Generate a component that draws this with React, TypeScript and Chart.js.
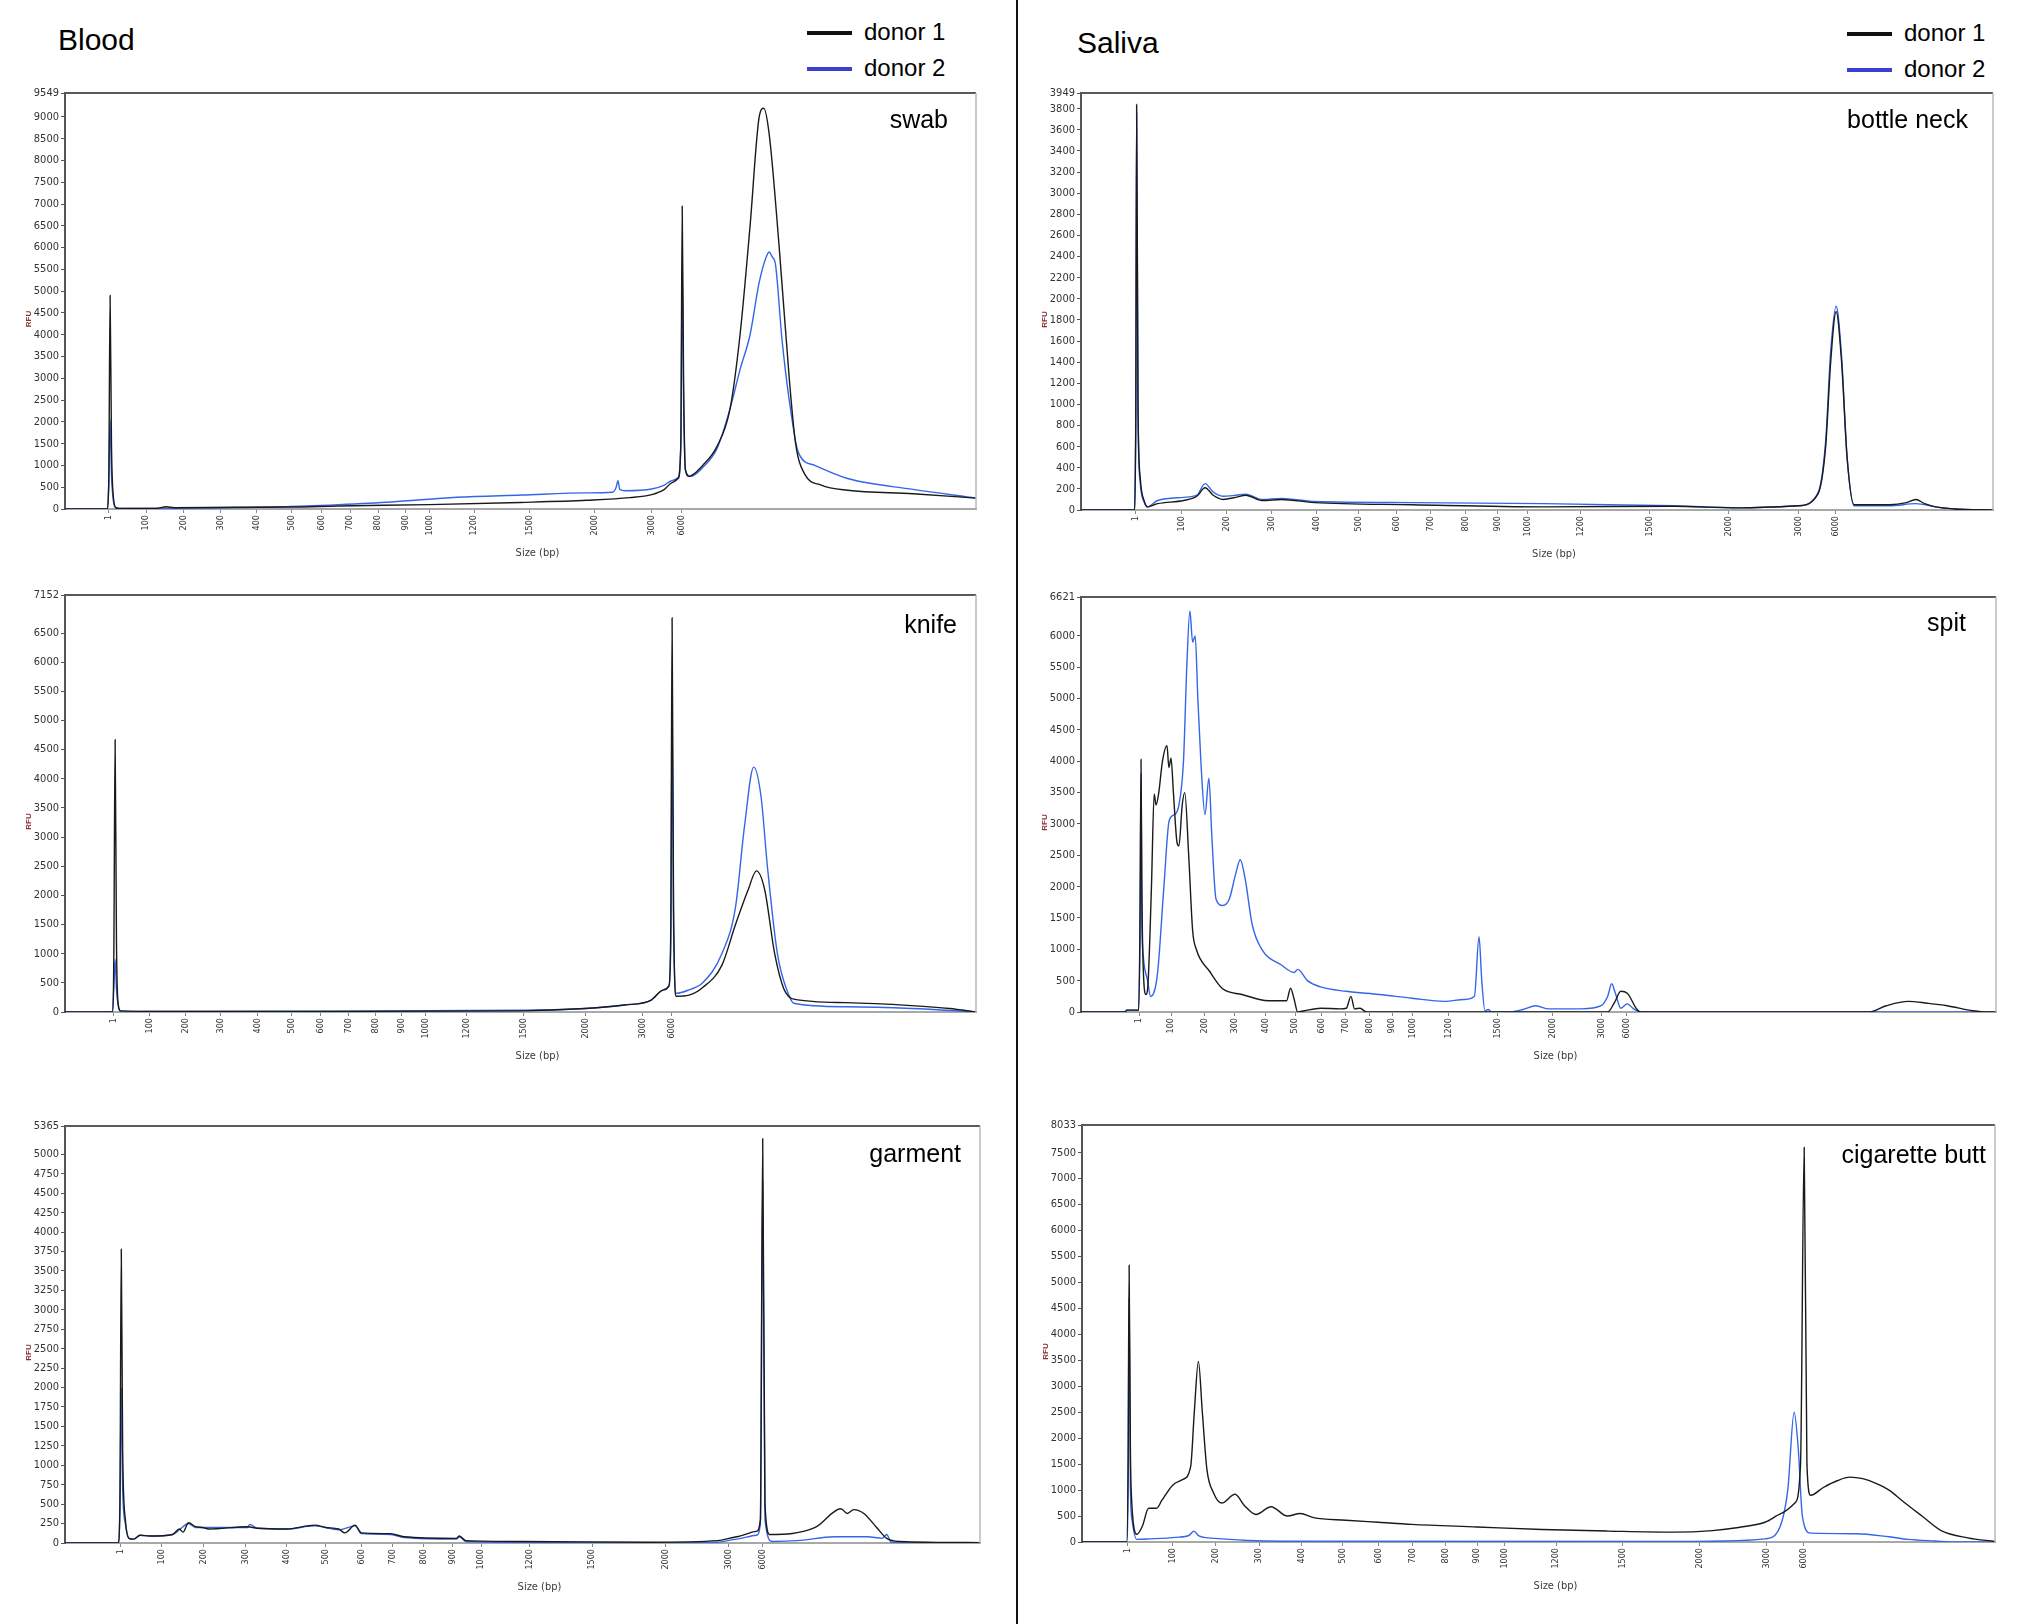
import React, { useEffect, useRef } from "react";
import { Chart, registerables } from "chart.js";

Chart.register(...registerables);

type Pt = [number, number];

// size ladder labels and where each sits along the run (0..1000 across the plot)
const ladderLabels = ["1", "100", "200", "300", "400", "500", "600", "700", "800", "900", "1000", "1200", "1500", "2000", "3000", "6000"];
const swabLadder = [48, 89, 130.3, 171, 210.5, 248.4, 282, 313, 343.6, 373.7, 400, 449, 510, 581, 644, 677];
const knifeLadder = [53.6, 92.9, 132, 171, 211, 248.6, 281, 311, 341, 369, 396, 441, 503, 571, 634, 666];
const garmentLadder = [60.6, 105.5, 151.8, 197.4, 242, 285, 324, 358, 392, 424, 454.7, 507.5, 576, 656, 725.6, 762.7];
const bottleLadder = [59.5, 110.4, 160, 209, 258, 304, 346, 383.5, 421.5, 456.6, 489.6, 547.7, 623, 709.7, 786.4, 827];
const spitLadder = [63.5, 98.4, 134.8, 168.3, 201.9, 234, 262.5, 289, 315, 340, 362, 402, 455, 515, 568.5, 596];
const cigLadder = [50, 98.9, 146, 194, 240.7, 285, 325, 361.7, 398, 432.7, 462.8, 519.3, 592.4, 676, 750, 790];

// RFU traces: [run position, RFU]
const swabDonor1: Pt[] = [[0, 0], [46, 0], [48, 600], [49.5, 4900], [51, 1500], [53, 300], [56, 30], [60, 10], [100, 15], [111, 50], [120, 30], [186, 40], [250, 45], [300, 70], [400, 100], [500, 150], [573, 200], [620, 260], [644, 330], [658, 450], [666, 600], [673, 700], [676, 1500], [677.5, 6950], [679, 3000], [681, 900], [685, 750], [700, 1000], [716, 1450], [730, 2300], [741, 4000], [752, 6500], [762, 9000], [767, 9200], [773, 8600], [784, 6000], [795, 3000], [802, 1500], [812, 800], [830, 550], [859, 430], [931, 350], [1000, 250]];
const swabDonor2: Pt[] = [[0, 0], [46, 0], [48, 500], [49.5, 2050], [51, 800], [53, 200], [56, 20], [60, 10], [150, 20], [236, 50], [300, 100], [358, 160], [430, 270], [501, 320], [573, 370], [601, 385], [605, 500], [607, 650], [609, 450], [615, 420], [644, 460], [658, 550], [666, 650], [673, 720], [676, 1500], [677.5, 5500], [679, 2500], [681, 900], [687, 750], [700, 950], [716, 1400], [730, 2300], [741, 3200], [752, 4000], [762, 5200], [770, 5800], [773, 5900], [776, 5800], [780, 5600], [787, 3900], [795, 2500], [805, 1300], [823, 1000], [859, 700], [931, 450], [1000, 250]];

const knifeDonor1: Pt[] = [[0, 0], [52, 0], [53.6, 1000], [55, 4670], [56.5, 1200], [58, 200], [61, 20], [100, 10], [300, 10], [500, 20], [571, 60], [614, 120], [643, 200], [657, 380], [663, 450], [665, 1500], [666.4, 6760], [668, 1800], [671, 270], [685, 290], [700, 420], [721, 800], [736, 1500], [750, 2100], [759, 2420], [768, 2100], [779, 1000], [789, 400], [800, 220], [857, 160], [929, 110], [971, 60], [1000, 0]];
const knifeDonor2: Pt[] = [[0, 0], [52, 0], [53.6, 400], [55, 900], [56.5, 400], [58, 150], [61, 10], [300, 15], [500, 30], [571, 60], [614, 120], [643, 200], [657, 380], [663, 450], [665, 1200], [666.4, 5100], [668, 1500], [671, 320], [685, 380], [700, 500], [721, 1000], [736, 1800], [746, 3200], [756, 4200], [764, 3700], [771, 2500], [782, 1000], [793, 350], [800, 150], [857, 90], [929, 60], [1000, 0]];

const garmentDonor1: Pt[] = [[0, 0], [58, 0], [60, 500], [61.5, 3780], [63, 1200], [66, 300], [70, 60], [75, 50], [82, 100], [92.7, 90], [117.6, 110], [125, 180], [129, 140], [135, 260], [142.6, 210], [150, 200], [157, 180], [199.6, 210], [210, 190], [242, 180], [273, 230], [285, 200], [299, 180], [306, 130], [317, 230], [324, 130], [356, 120], [370.6, 80], [427.7, 60], [431, 90], [438, 30], [499, 20], [641.5, 10], [713, 30], [734, 80], [755.5, 150], [760, 300], [762.5, 5200], [765, 500], [770, 110], [820, 200], [848, 440], [855, 380], [862, 430], [873, 380], [887, 200], [898, 60], [912, 20], [1000, 5]];
const garmentDonor2: Pt[] = [[0, 0], [58, 0], [60, 400], [61.5, 2000], [63, 700], [66, 250], [70, 60], [75, 50], [82, 100], [92.7, 90], [117.6, 110], [125, 170], [135, 250], [142.6, 200], [199.6, 200], [202, 240], [210, 190], [242, 180], [273, 220], [299, 170], [317, 220], [324, 120], [356, 110], [370.6, 70], [427.7, 50], [431, 80], [438, 20], [499, 10], [641.5, 5], [713, 10], [734, 50], [755.5, 100], [760, 250], [762.5, 4650], [765, 300], [773, 20], [800, 30], [841, 80], [877, 80], [893, 60], [898, 110], [903, 10], [1000, 0]];

const bottleDonor1: Pt[] = [[0, 0], [58, 0], [60, 800], [61, 3840], [62.5, 1000], [65, 300], [69.5, 80], [73, 30], [84, 60], [112.5, 90], [127, 130], [136, 210], [145, 140], [155.6, 100], [170, 120], [180.6, 140], [198.6, 90], [220, 100], [256, 70], [363.4, 50], [507, 30], [650, 35], [722, 20], [786, 40], [808, 150], [816.5, 600], [822, 1400], [828, 1880], [834, 1400], [840, 500], [847.7, 50], [887, 50], [905, 70], [915.4, 100], [925, 60], [937, 30], [958, 10], [1000, 0]];
const bottleDonor2: Pt[] = [[0, 0], [58, 0], [60, 700], [61, 3760], [62.5, 900], [65, 250], [69.5, 70], [73, 30], [84, 90], [112.5, 120], [127, 140], [136, 250], [145, 170], [155.6, 130], [170, 140], [180.6, 150], [198.6, 100], [220, 110], [256, 80], [363.4, 70], [507, 60], [650, 40], [722, 20], [786, 40], [808, 160], [816.5, 650], [822, 1500], [828, 1930], [834, 1450], [840, 500], [847.7, 40], [887, 40], [915.4, 60], [937, 30], [958, 10], [1000, 0]];

const spitDonor1: Pt[] = [[0, 0], [48, 0], [50, 30], [63, 30], [64.5, 1500], [65.6, 4030], [66.5, 2000], [67.8, 800], [71, 280], [73, 400], [77, 2000], [80, 3480], [82, 3300], [85, 3500], [89, 4000], [94, 4250], [96, 3900], [98.4, 4050], [101, 3500], [105, 2700], [107, 2650], [110.6, 3300], [113.4, 3500], [117.7, 2500], [122, 1300], [126, 1000], [140.5, 650], [154.8, 370], [176, 280], [204.7, 180], [224.7, 180], [229, 380], [233, 200], [236.8, 0], [244, 20], [261.8, 60], [283, 50], [290, 60], [295, 250], [299, 50], [305, 60], [312, 0], [575.6, 0], [583, 150], [590, 330], [597, 300], [607.7, 40], [612, 0], [861, 0], [880, 100], [904, 170], [925, 140], [946.5, 100], [975, 20], [990, 0], [1000, 0]];
const spitDonor2: Pt[] = [[0, 0], [48, 0], [50, 30], [63, 30], [64.5, 1200], [65.6, 3800], [66.5, 1500], [68, 900], [72.8, 500], [76, 250], [83.5, 600], [90.6, 2000], [96.3, 3050], [102, 3150], [107, 3300], [112, 4000], [115.6, 5500], [119, 6400], [122, 5900], [124.8, 6000], [127.7, 5000], [131, 4000], [135.5, 3150], [139.8, 3730], [143, 2800], [147.6, 1800], [154.8, 1700], [162, 1800], [169, 2200], [174, 2430], [179.7, 2100], [187, 1400], [197.6, 1000], [219, 750], [233, 630], [236.8, 680], [247.5, 500], [261.8, 400], [290, 330], [326, 280], [361.6, 220], [397, 170], [418.7, 200], [430, 250], [435, 1200], [438, 500], [441.5, 20], [445, 40], [448.6, 0], [468.6, 0], [483, 40], [497, 100], [511, 50], [547, 50], [568.5, 100], [575.6, 250], [580, 450], [584, 300], [590, 60], [597, 130], [604, 50], [611, 0], [1000, 0]];

const cigDonor1: Pt[] = [[0, 0], [49, 0], [50.5, 1500], [51.6, 5330], [53, 1800], [54.4, 800], [60, 150], [66, 300], [73, 650], [81.7, 650], [87.4, 800], [99.6, 1100], [110, 1200], [119, 1450], [123, 2500], [127.5, 3480], [131.8, 2500], [136.8, 1400], [144, 950], [153, 750], [167.6, 920], [178, 700], [190.5, 530], [207, 680], [225, 500], [239, 550], [253.6, 470], [289, 420], [325, 380], [361, 340], [432.7, 290], [504, 240], [576, 210], [647.6, 190], [690.5, 220], [719, 280], [748, 380], [766, 550], [780.8, 750], [787, 1500], [791, 7600], [794, 1500], [798, 900], [812, 1050], [827, 1180], [841, 1250], [855, 1220], [869.6, 1130], [884, 1000], [898, 800], [920, 500], [941, 220], [970, 80], [1000, 10]];
const cigDonor2: Pt[] = [[0, 0], [49, 0], [50.5, 1200], [51.6, 4700], [53, 1050], [55, 400], [60, 50], [74.5, 60], [103, 90], [117.5, 130], [122.5, 210], [128, 120], [146, 70], [182, 30], [218, 15], [647.6, 10], [705, 20], [748, 60], [762, 200], [773, 1000], [780, 2500], [784.5, 1800], [789, 500], [798, 170], [848, 160], [884, 100], [905, 50], [934, 20], [959, 0], [1000, 0]];

const donorNames = ["donor 1", "donor 2"];
const donorColors = ["#1a1a1a", "#3366e8"];
const legendColors = ["#111111", "#3b3fd2"];

type PanelDef = {
  name: string;
  left: number;
  top: number;
  right: number;
  bottom: number;
  labelBase: number;
  labelRight: number;
  ladder: number[];
  yMax: number;
  yStep: number;
  yLast: number;
  donor1: Pt[];
  donor2: Pt[];
};

const panels: PanelDef[] = [
  { name: "swab", left: 65, top: 93, right: 976, bottom: 509, labelRight: 948, labelBase: 128, ladder: swabLadder, yMax: 9549, yStep: 500, yLast: 9000, donor1: swabDonor1, donor2: swabDonor2 },
  { name: "knife", left: 65, top: 595, right: 976, bottom: 1012, labelRight: 957, labelBase: 633, ladder: knifeLadder, yMax: 7152, yStep: 500, yLast: 6500, donor1: knifeDonor1, donor2: knifeDonor2 },
  { name: "garment", left: 65, top: 1126, right: 980, bottom: 1543, labelRight: 961, labelBase: 1162, ladder: garmentLadder, yMax: 5365, yStep: 250, yLast: 5000, donor1: garmentDonor1, donor2: garmentDonor2 },
  { name: "bottle neck", left: 1081, top: 93, right: 1993, bottom: 510, labelRight: 1968, labelBase: 128, ladder: bottleLadder, yMax: 3949, yStep: 200, yLast: 3800, donor1: bottleDonor1, donor2: bottleDonor2 },
  { name: "spit", left: 1081, top: 597, right: 1996, bottom: 1012, labelRight: 1966, labelBase: 631, ladder: spitLadder, yMax: 6621, yStep: 500, yLast: 6000, donor1: spitDonor1, donor2: spitDonor2 },
  { name: "cigarette butt", left: 1082, top: 1125, right: 1995, bottom: 1542, labelRight: 1986, labelBase: 1163, ladder: cigLadder, yMax: 8033, yStep: 500, yLast: 7500, donor1: cigDonor1, donor2: cigDonor2 },
];

const narrow = "'Liberation Sans Narrow', 'Arial Narrow', 'DejaVu Sans Condensed', sans-serif";
const sans = "'Liberation Sans', Arial, sans-serif";

const AXIS_W = 65;
const PAD_TOP = 14;
const PAD_RIGHT = 12;
const AXIS_H = 62;

const framePlugin = {
  id: "frame",
  afterDraw(chart: any) {
    const { ctx, chartArea: a } = chart;
    ctx.save();
    ctx.strokeStyle = "#5a5a5a";
    ctx.lineWidth = 2;
    ctx.beginPath();
    ctx.moveTo(a.left, a.top);
    ctx.lineTo(a.right, a.top);
    ctx.stroke();
    ctx.strokeStyle = "#b8b8b8";
    ctx.lineWidth = 1.5;
    ctx.beginPath();
    ctx.moveTo(a.right, a.top);
    ctx.lineTo(a.right, a.bottom);
    ctx.stroke();
    ctx.fillStyle = "#3a3a3a";
    ctx.font = `11px ${narrow}`;
    ctx.textAlign = "center";
    ctx.textBaseline = "middle";
    ctx.fillText("Size (bp)", (a.left + a.right) / 2 + 17, a.bottom + 44);
    ctx.translate(a.left - 36, (a.top + a.bottom) / 2 + 18);
    ctx.rotate(-Math.PI / 2);
    ctx.fillStyle = "#8a3030";
    ctx.font = `bold 8px ${sans}`;
    ctx.fillText("RFU", 0, 0);
    ctx.restore();
  },
};

const Panel = ({ p }: { p: PanelDef }) => {
  const canvasRef = useRef<HTMLCanvasElement | null>(null);
  const chartRef = useRef<Chart | null>(null);

  useEffect(() => {
    const ctx = canvasRef.current?.getContext("2d");
    if (chartRef.current) chartRef.current.destroy();
    if (!ctx) return;

    const yTicks: number[] = [];
    for (let v = 0; v <= p.yLast; v += p.yStep) yTicks.push(v);
    yTicks.push(p.yMax);

    chartRef.current = new Chart(ctx, {
      type: "line",
      data: {
        datasets: [p.donor1, p.donor2].map((pts, i) => ({
          label: donorNames[i],
          data: pts.map(([x, y]) => ({ x, y })),
          borderColor: donorColors[i],
          borderWidth: 1.4,
          pointRadius: 0,
          cubicInterpolationMode: "monotone" as const,
          fill: false,
        })),
      },
      options: {
        responsive: true,
        maintainAspectRatio: false,
        animation: false,
        layout: { padding: { top: PAD_TOP, right: PAD_RIGHT, left: 0, bottom: 0 } },
        plugins: { legend: { display: false }, tooltip: { enabled: false }, title: { display: false } },
        scales: {
          x: {
            type: "linear",
            min: 0,
            max: 1000,
            afterBuildTicks: (s: any) => {
              s.ticks = p.ladder.map((v) => ({ value: v }));
            },
            afterFit: (s: any) => {
              s.height = AXIS_H;
            },
            ticks: {
              autoSkip: false,
              minRotation: 90,
              maxRotation: 90,
              padding: 2,
              color: "#333",
              font: { size: 9, family: narrow },
              callback: (_v: any, i: number) => ladderLabels[i],
            },
            grid: { drawOnChartArea: false, drawTicks: true, tickLength: 4, color: "#888" },
            border: { color: "#a8a8a8", width: 2 },
          },
          y: {
            min: 0,
            max: p.yMax,
            afterBuildTicks: (s: any) => {
              s.ticks = yTicks.map((v) => ({ value: v }));
            },
            afterFit: (s: any) => {
              s.width = AXIS_W;
            },
            ticks: {
              autoSkip: false,
              padding: 2,
              color: "#333",
              font: { size: 11, family: narrow },
              callback: (v: any) => String(v),
            },
            grid: { drawOnChartArea: false, drawTicks: true, tickLength: 4, color: "#555" },
            border: { color: "#555", width: 2 },
          },
        },
      },
      plugins: [framePlugin],
    });

    return () => {
      if (chartRef.current) {
        chartRef.current.destroy();
        chartRef.current = null;
      }
    };
  }, [p]);

  return (
    <div
      style={{
        position: "absolute",
        left: p.left - AXIS_W,
        top: p.top - PAD_TOP,
        width: p.right - p.left + AXIS_W + PAD_RIGHT,
        height: p.bottom - p.top + PAD_TOP + AXIS_H,
      }}
    >
      <canvas ref={canvasRef}></canvas>
    </div>
  );
};

// text placed by baseline
const Text = ({ x, base, size, text, align = "left" }: { x: number; base: number; size: number; text: string; align?: "left" | "right" }) => (
  <div
    style={{
      position: "absolute",
      top: base - 0.8465 * size,
      left: align === "left" ? x : x - 400,
      width: align === "left" ? undefined : 400,
      textAlign: align,
      fontFamily: sans,
      fontSize: size,
      lineHeight: `${size}px`,
      whiteSpace: "nowrap",
      color: "#000",
    }}
  >
    {text}
  </div>
);

const Legend = ({ x, y }: { x: number; y: number }) => (
  <>
    {donorNames.map((n, i) => (
      <React.Fragment key={n}>
        <div style={{ position: "absolute", left: x, top: y + i * 36 - 2, width: 45, height: 4, background: legendColors[i] }} />
        <Text x={x + 57} base={y + i * 36 + 7} size={24} text={n} />
      </React.Fragment>
    ))}
  </>
);

const App = () => (
  <div style={{ position: "absolute", left: 0, top: 0, width: 2043, height: 1624, background: "#fff", overflow: "hidden" }}>
    <div style={{ position: "absolute", left: 1016, top: 0, width: 2, height: 1624, background: "#111" }} />
    <Text x={58} base={50} size={30} text="Blood" />
    <Text x={1077} base={53} size={30} text="Saliva" />
    <Legend x={807} y={33} />
    <Legend x={1847} y={34} />
    {panels.map((p) => (
      <React.Fragment key={p.name}>
        <Panel p={p} />
        <Text x={p.labelRight} base={p.labelBase} size={25} text={p.name} align="right" />
      </React.Fragment>
    ))}
  </div>
);

export default App;
